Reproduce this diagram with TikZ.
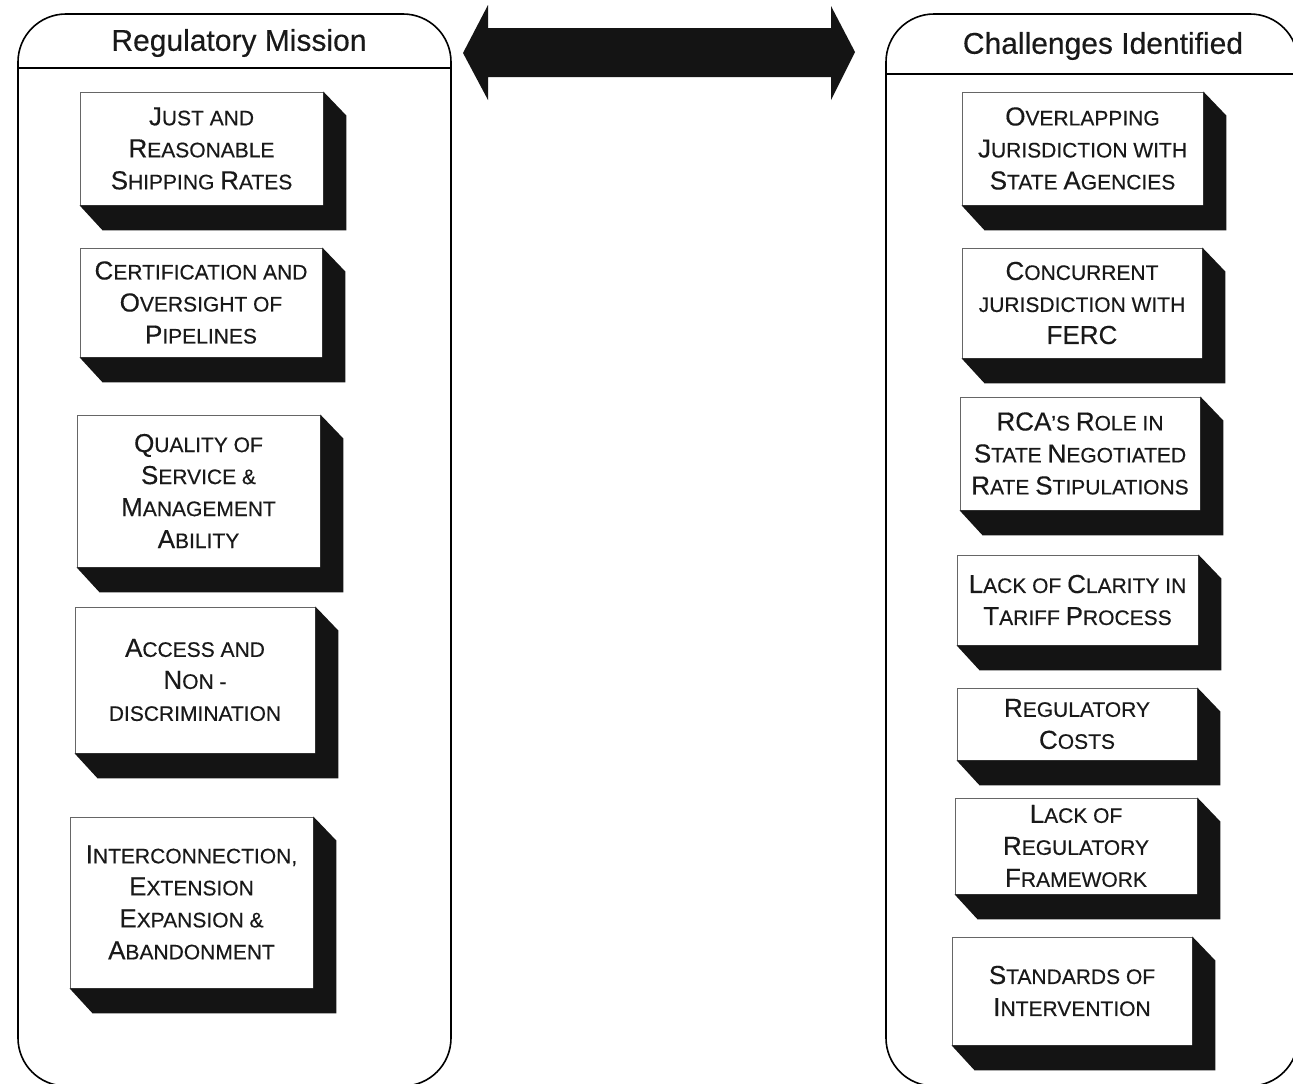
\documentclass[tikz,border=0pt]{standalone}
\usepackage{fontspec}
\setmainfont[FakeBold=0.35]{Liberation Sans}
\newcommand{\BC}[1]{{\fontsize{26}{32}\selectfont #1}}
\tikzset{
  panel/.style={draw=black, line width=1.6pt, rounded corners=48pt},
  hdrline/.style={draw=black, line width=1.5pt},
  title/.style={font=\fontsize{30}{36}\selectfont, text=black!90},
  face/.style={draw=black!60, line width=0.8pt, fill=white, inner sep=0pt, align=center,
    font=\fontsize{21}{32}\selectfont, text=black!90},
  extr/.style={fill=black!92},
  bigarrow/.style={fill=black!92}
}
% #1 name, #2 x1, #3 y1, #4 x2, #5 y2, #6 text
\newcommand{\cbox}[6]{%
  \node[face, minimum width={(#4-#2)*1pt}, minimum height={(#5-#3)*1pt}]
    (#1) at ({(#2+#4)/2},{(#3+#5)/2}) {#6};
  \fill[extr] (#1.north east) -- ([shift={(23,24)}]#1.north east)
    -- ([shift={(23,25)}]#1.south east) -- ([shift={(23,25)}]#1.south west)
    -- (#1.south west) -- (#1.south east) -- cycle;
}
\begin{document}
\begin{tikzpicture}[x=1pt,y=-1pt]
\useasboundingbox (0,0) rectangle (1293,1084);
\fill[white] (0,0) rectangle (1293,1084);

% panels
\draw[panel] (18,14) rectangle (451,1086);
\draw[hdrline] (18,68) -- (451,68);
\node[title] (lt) at (239,43) {Regulatory Mission};

\draw[panel] (886,14) rectangle (1298,1086);
\draw[hdrline] (886,74) -- (1298,74);
\node[title] (rt) at (1103,46) {Challenges Identified};

% double arrow
\fill[bigarrow] (463,53) -- (488,5) -- (488,28) -- (831,28) -- (831,6) -- (855,52)
  -- (831,100) -- (831,77) -- (488,77) -- (488,100) -- cycle;

% left boxes
\cbox{l1}{80}{92}{323}{205}{\BC{J}UST AND\\\BC{R}EASONABLE\\\BC{S}HIPPING \BC{R}ATES}
\cbox{l2}{80}{248}{322}{357}{\BC{C}ERTIFICATION AND\\\BC{O}VERSIGHT OF\\\BC{P}IPELINES}
\cbox{l3}{77}{415}{320}{567}{\BC{Q}UALITY OF\\\BC{S}ERVICE \&\\\BC{M}ANAGEMENT\\\BC{A}BILITY}
\cbox{l4}{75}{607}{315}{753}{\BC{A}CCESS AND\\\BC{N}ON -\\DISCRIMINATION}
\cbox{l5}{70}{817}{313}{988}{\BC{I}NTERCONNECTION,\\\BC{E}XTENSION\\\BC{E}XPANSION \&\\\BC{A}BANDONMENT}

% right boxes
\cbox{r1}{962}{92}{1203}{205}{\BC{O}VERLAPPING\\\BC{J}URISDICTION WITH\\\BC{S}TATE \BC{A}GENCIES}
\cbox{r2}{962}{248}{1202}{358}{\BC{C}ONCURRENT\\JURISDICTION WITH\\\BC{FERC}}
\cbox{r3}{960}{397}{1200}{510}{\BC{RCA}'S \BC{R}OLE IN\\\BC{S}TATE \BC{N}EGOTIATED\\\BC{R}ATE \BC{S}TIPULATIONS}
\cbox{r4}{957}{555}{1198}{645}{\BC{L}ACK OF \BC{C}LARITY IN\\\BC{T}ARIFF \BC{P}ROCESS}
\cbox{r5}{957}{688}{1197}{760}{\BC{R}EGULATORY\\\BC{C}OSTS}
\cbox{r6}{955}{798}{1197}{894}{\BC{L}ACK OF\\\BC{R}EGULATORY\\\BC{F}RAMEWORK}
\cbox{r7}{952}{937}{1192}{1045}{\BC{S}TANDARDS OF\\\BC{I}NTERVENTION}
\end{tikzpicture}
\end{document}
